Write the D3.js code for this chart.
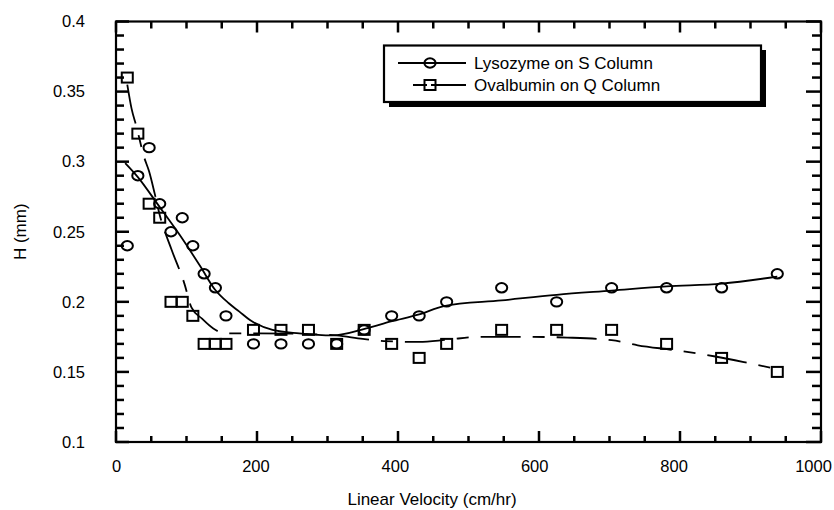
<!DOCTYPE html>
<html>
<head>
<meta charset="utf-8">
<script src="https://cdn.jsdelivr.net/npm/d3@7"></script>
<style>
  html, body { margin: 0; padding: 0; background: #fff; }
  #chart { width: 834px; height: 510px; }
</style>
</head>
<body>
<div id="chart"></div>
<script>
// measured points
const velocity  = [16, 31, 47, 62, 78, 94, 109, 125, 141, 156, 195, 234, 273, 313, 352, 391, 430, 469, 547, 625, 703, 781, 859, 938];
const lysozyme  = [0.24, 0.29, 0.31, 0.27, 0.25, 0.26, 0.24, 0.22, 0.21, 0.19, 0.17, 0.17, 0.17, 0.17, 0.18, 0.19, 0.19, 0.20, 0.21, 0.20, 0.21, 0.21, 0.21, 0.22];
const ovalbumin = [0.36, 0.32, 0.27, 0.26, 0.20, 0.20, 0.19, 0.17, 0.17, 0.17, 0.18, 0.18, 0.18, 0.17, 0.18, 0.17, 0.16, 0.17, 0.18, 0.18, 0.18, 0.17, 0.16, 0.15];

// fitted curves
const lysoFitX = [13, 31, 60, 90, 120, 140, 160, 175, 190, 222, 260, 307, 355, 390, 430, 465, 547, 625, 703, 781, 859, 938];
const lysoFitH = [0.299, 0.289, 0.269, 0.248, 0.225, 0.209, 0.199, 0.193, 0.187, 0.180, 0.1775, 0.176, 0.181, 0.186, 0.191, 0.197, 0.201, 0.205, 0.208, 0.211, 0.213, 0.218];
const ovalFitX = [16, 22, 29, 40, 47, 55, 62, 79, 97, 107, 122, 138, 155, 200, 273, 313, 350, 380, 430, 470, 515, 583, 640, 703, 740, 793, 850, 900, 938];
const ovalFitH = [0.355, 0.338, 0.325, 0.303, 0.293, 0.277, 0.262, 0.237, 0.213, 0.196, 0.188, 0.181, 0.1775, 0.1775, 0.177, 0.176, 0.1735, 0.172, 0.1714, 0.173, 0.175, 0.175, 0.1745, 0.1727, 0.169, 0.1655, 0.161, 0.156, 0.152];

const xMajor = [0, 200, 400, 600, 800, 1000];
const yMajor = [0.1, 0.15, 0.2, 0.25, 0.3, 0.35, 0.4];
const legendNames = ["Lysozyme on S Column", "Ovalbumin on Q Column"];

function renderChart(containerId){
  const container = document.getElementById(containerId);
  const width = 834, height = 510;
  const plot = {left: 116, right: 821, top: 21.5, bottom: 442};
  const ink = "#000";
  const font = "'Liberation Sans', Arial, sans-serif";

  const svg = d3.create("svg")
    .attr("width", width)
    .attr("height", height)
    .style("font-family", font);

  svg.append("rect").attr("width", width).attr("height", height).attr("fill", "#fff");

  const x = d3.scaleLinear().domain([0, 1000]).range([plot.left, plot.right]);
  const y = d3.scaleLinear().domain([0.1, 0.4]).range([plot.bottom, plot.top]);

  const xMinor = d3.range(0, 1001, 50).filter(v => v % 200 !== 0);
  const yMinor = d3.range(10, 41).map(v => v / 100).filter(v => Math.round(v * 100) % 5 !== 0);

  function styleAxis(g){
    g.select(".domain").remove();
    g.selectAll(".tick line").remove();
    g.selectAll(".tick text").attr("fill", ink).style("font-size", "16.5px").style("font-family", font);
  }

  // tick labels from d3 axes
  svg.append("g").attr("transform", `translate(0,${plot.bottom})`)
    .call(d3.axisBottom(x).tickValues(xMajor).tickSize(0).tickPadding(18).tickFormat(d3.format("d")))
    .call(styleAxis)
    .call(g => g.selectAll(".tick text").attr("dx", d => -d * 0.008));
  svg.append("g").attr("transform", `translate(${plot.left},0)`)
    .call(d3.axisLeft(y).tickValues(yMajor).tickSize(0).tickPadding(31).tickFormat(d3.format("")))
    .call(styleAxis);

  // frame
  svg.append("rect")
    .attr("x", plot.left).attr("y", plot.top)
    .attr("width", plot.right - plot.left).attr("height", plot.bottom - plot.top)
    .style("fill", "none").style("stroke", ink).style("stroke-width", "2.2px");

  // inward tick marks, one line each, absolute coordinates
  const tickSegs = [];
  xMinor.forEach(v => {
    tickSegs.push([x(v), plot.bottom, x(v), plot.bottom - 6]);
    tickSegs.push([x(v), plot.top, x(v), plot.top + 7]);
  });
  xMajor.forEach(v => {
    tickSegs.push([x(v), plot.bottom, x(v), plot.bottom - 11]);
    tickSegs.push([x(v), plot.top, x(v), plot.top + 11]);
  });
  yMinor.forEach(v => {
    tickSegs.push([plot.left, y(v), plot.left + 8, y(v)]);
    tickSegs.push([plot.right, y(v), plot.right - 9, y(v)]);
  });
  yMajor.forEach(v => {
    tickSegs.push([plot.left, y(v), plot.left + 13, y(v)]);
    tickSegs.push([plot.right, y(v), plot.right - 15, y(v)]);
  });
  svg.append("g").attr("class", "ticks")
    .selectAll("line")
    .data(tickSegs)
    .join("line")
      .attr("x1", d => d[0]).attr("y1", d => d[1])
      .attr("x2", d => d[2]).attr("y2", d => d[3])
      .style("stroke", ink)
      .style("stroke-width", "2.5px")
      .style("stroke-linecap", "butt");

  // axis titles
  svg.append("text")
    .attr("x", 432).attr("y", 505)
    .attr("text-anchor", "middle")
    .attr("fill", ink)
    .style("font-size", "17px")
    .text("Linear Velocity (cm/hr)");

  svg.append("text")
    .attr("transform", `translate(26,${(plot.top + plot.bottom) / 2}) rotate(-90)`)
    .attr("text-anchor", "middle")
    .attr("fill", ink)
    .style("font-size", "17px")
    .text("H (mm)");

  // fits
  const line = d3.line().x(d => x(d[0])).y(d => y(d[1])).curve(d3.curveMonotoneX);
  const dash = "40,12,12,12";

  svg.append("path")
    .datum(d3.zip(lysoFitX, lysoFitH))
    .attr("d", line)
    .attr("fill", "none").attr("stroke", ink).attr("stroke-width", 1.8);

  svg.append("path")
    .datum(d3.zip(ovalFitX, ovalFitH))
    .attr("d", line)
    .attr("fill", "none").attr("stroke", ink).attr("stroke-width", 1.8)
    .attr("stroke-dasharray", dash);

  // markers
  function circleMark(sel){
    sel.append("ellipse").attr("rx", 5.6).attr("ry", 4.7)
      .attr("fill", "none").attr("stroke", ink).attr("stroke-width", 2);
  }
  function squareMark(sel){
    sel.append("rect").attr("x", -5.5).attr("y", -5).attr("width", 11).attr("height", 10)
      .attr("fill", "none").attr("stroke", ink).attr("stroke-width", 2);
  }

  svg.append("g").selectAll("g")
    .data(d3.zip(velocity, ovalbumin))
    .join("g")
      .attr("transform", d => `translate(${x(d[0])},${y(d[1])})`)
      .call(squareMark);

  svg.append("g").selectAll("g")
    .data(d3.zip(velocity, lysozyme))
    .join("g")
      .attr("transform", d => `translate(${x(d[0])},${y(d[1])})`)
      .call(circleMark);

  // legend
  const lg = svg.append("g");
  lg.append("rect").attr("x", 389).attr("y", 50).attr("width", 377).attr("height", 57).attr("fill", ink);
  lg.append("rect").attr("x", 384).attr("y", 45.5).attr("width", 377).attr("height", 56.5)
    .attr("fill", "#fff").attr("stroke", ink).attr("stroke-width", 2.2);

  const rows = [
    {name: legendNames[0], x1: 398, dash: null, mark: circleMark, y: 63},
    {name: legendNames[1], x1: 413, dash: dash, mark: squareMark, y: 85}
  ];
  rows.forEach(r => {
    lg.append("line")
      .attr("x1", r.x1).attr("x2", 466).attr("y1", r.y).attr("y2", r.y)
      .attr("stroke", ink).attr("stroke-width", 1.8)
      .attr("stroke-dasharray", r.dash ? "14,4,40,0" : null);
    lg.append("g").attr("transform", `translate(430,${r.y})`).call(r.mark);
    lg.append("text")
      .attr("x", 474).attr("y", r.y + 6)
      .attr("fill", ink)
      .style("font-size", "17px")
      .text(r.name);
  });

  container.appendChild(svg.node());
}

renderChart("chart");
</script>
</body>
</html>
